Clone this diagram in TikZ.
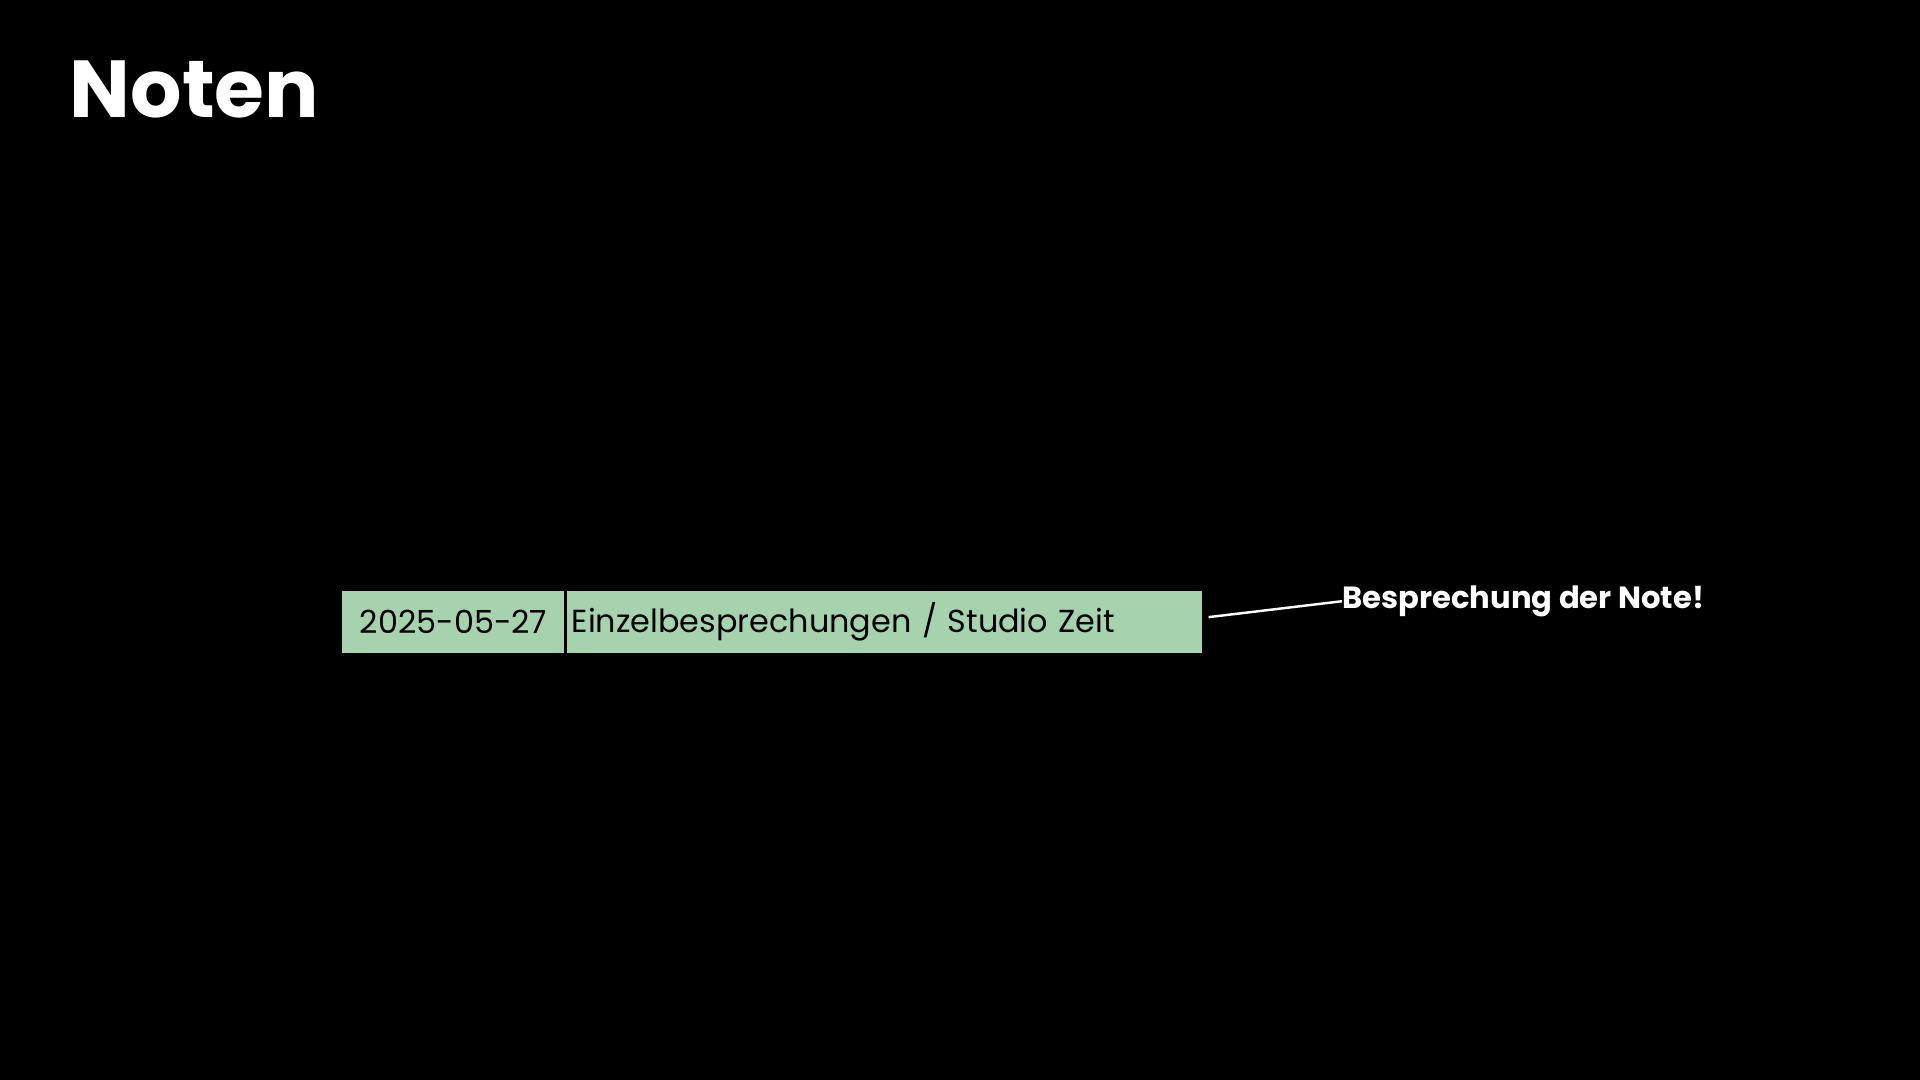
\documentclass[tikz,border=0pt]{standalone}
\usepackage{fontspec}
\setmainfont{Poppins}
\usetikzlibrary{positioning}
\definecolor{notegreen}{HTML}{A6D3AE}
\tikzset{
  cell/.style={fill=notegreen, minimum height=25pt, inner sep=0pt, font=\fontsize{13}{15}\selectfont},
}
\begin{document}
\begin{tikzpicture}[x=0.5pt, y=-0.5pt]
    \fill[black] (0, 0) rectangle (1568, 882);
    \useasboundingbox (0, 0) rectangle (1568, 882);

    \node[anchor=west, text=white, font=\fontsize{33}{38}\selectfont\bfseries] (title) at (50, 73) {Noten};

    \node[cell, anchor=west, minimum width=91pt] (date) at (279, 508) {2025-05-27};
    \node[cell, anchor=west, minimum width=259.5pt, text width=255pt, align=left] (topic) at (462, 508) {Einzelbesprechungen / Studio Zeit};
    \draw[black, line width=1pt] (date.north east)--(date.south east);

    \coordinate (tip) at (987, 504);
    \node[anchor=west, text=white, inner sep=0pt, font=\fontsize{12.5}{15}\selectfont\bfseries] (note) at (1096, 491) {Besprechung der Note!};
    \draw[white, line width=1pt] (tip)--(note.west);
\end{tikzpicture}
\end{document}
